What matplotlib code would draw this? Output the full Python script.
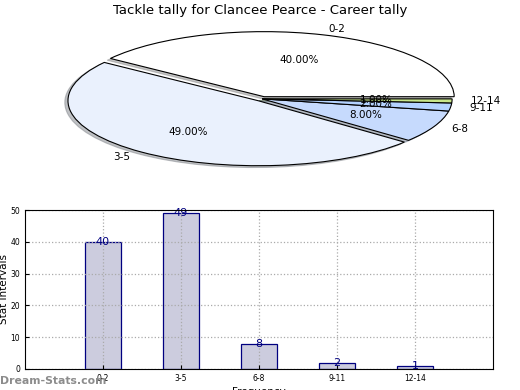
import matplotlib
matplotlib.use("Agg")
import matplotlib.pyplot as plt

# data
categories = ["0-2", "3-5", "6-8", "9-11", "12-14"]
counts = [40, 49, 8, 2, 1]
pie_colors = ["#ffffff", "#eaf1fd", "#c6dafd", "#b4d2ff", "#c8e68a"]
explode = [0.035, 0.035, 0, 0, 0]

fig = plt.figure(figsize=(5.2, 3.9), dpi=100)

# PIE -------------------------------------------------------------------------
ax1 = fig.add_axes([0.102, 0.563, 0.804, 0.367])
wedges, texts, autotexts = ax1.pie(counts, labels=categories, colors=pie_colors,
                                   explode=explode, autopct="%1.2f%%",
                                   shadow=dict(ox=-0.012, oy=-0.02, shade=0.45),
                                   startangle=0, labeldistance=1.1, pctdistance=0.6,
                                   wedgeprops=dict(edgecolor="black", linewidth=0.8),
                                   textprops=dict(fontsize=7.5))
ax1.set_aspect("auto")
ax1.set_xlim(-1.1, 1.1)
ax1.set_ylim(-1.1, 1.1)
fig.text(0.5, 0.972, "Tackle tally for Clancee Pearce - Career tally",
         ha="center", va="center", fontsize=9.5)

# BARS ------------------------------------------------------------------------
ax2 = fig.add_axes([25 / 520, 21 / 390, 468 / 520, 159 / 390])
xpos = list(range(len(categories)))
bars = ax2.bar(xpos, counts, width=0.46, color="#ccccde", edgecolor="navy", linewidth=0.9)
for x, v in zip(xpos, counts):
    ax2.text(x, v, str(v), ha="center", va="center", color="navy", fontsize=8)
ax2.set_xlim(-1, 5)
ax2.set_ylim(0, 50)
ax2.set_yticks([0, 10, 20, 30, 40, 50])
ax2.set_xticks(xpos)
ax2.set_xticklabels(categories)
ax2.tick_params(labelsize=5.5, direction="in", length=3)
ax2.grid(True, linestyle=":", color="#aaaaaa", linewidth=0.9)
ax2.set_axisbelow(False)
for sp in ax2.spines.values():
    sp.set_zorder(5)
ax2.set_ylabel("Stat Intervals", fontsize=7.5, labelpad=1)
ax2.set_xlabel("Frequency", fontsize=7.5, labelpad=3)

fig.text(0.0, 0.022, "Dream-Stats.com", color="#8c8c8c", fontsize=7.8,
         fontweight="bold", ha="left", va="center")

fig.savefig("out.png", dpi=100)
